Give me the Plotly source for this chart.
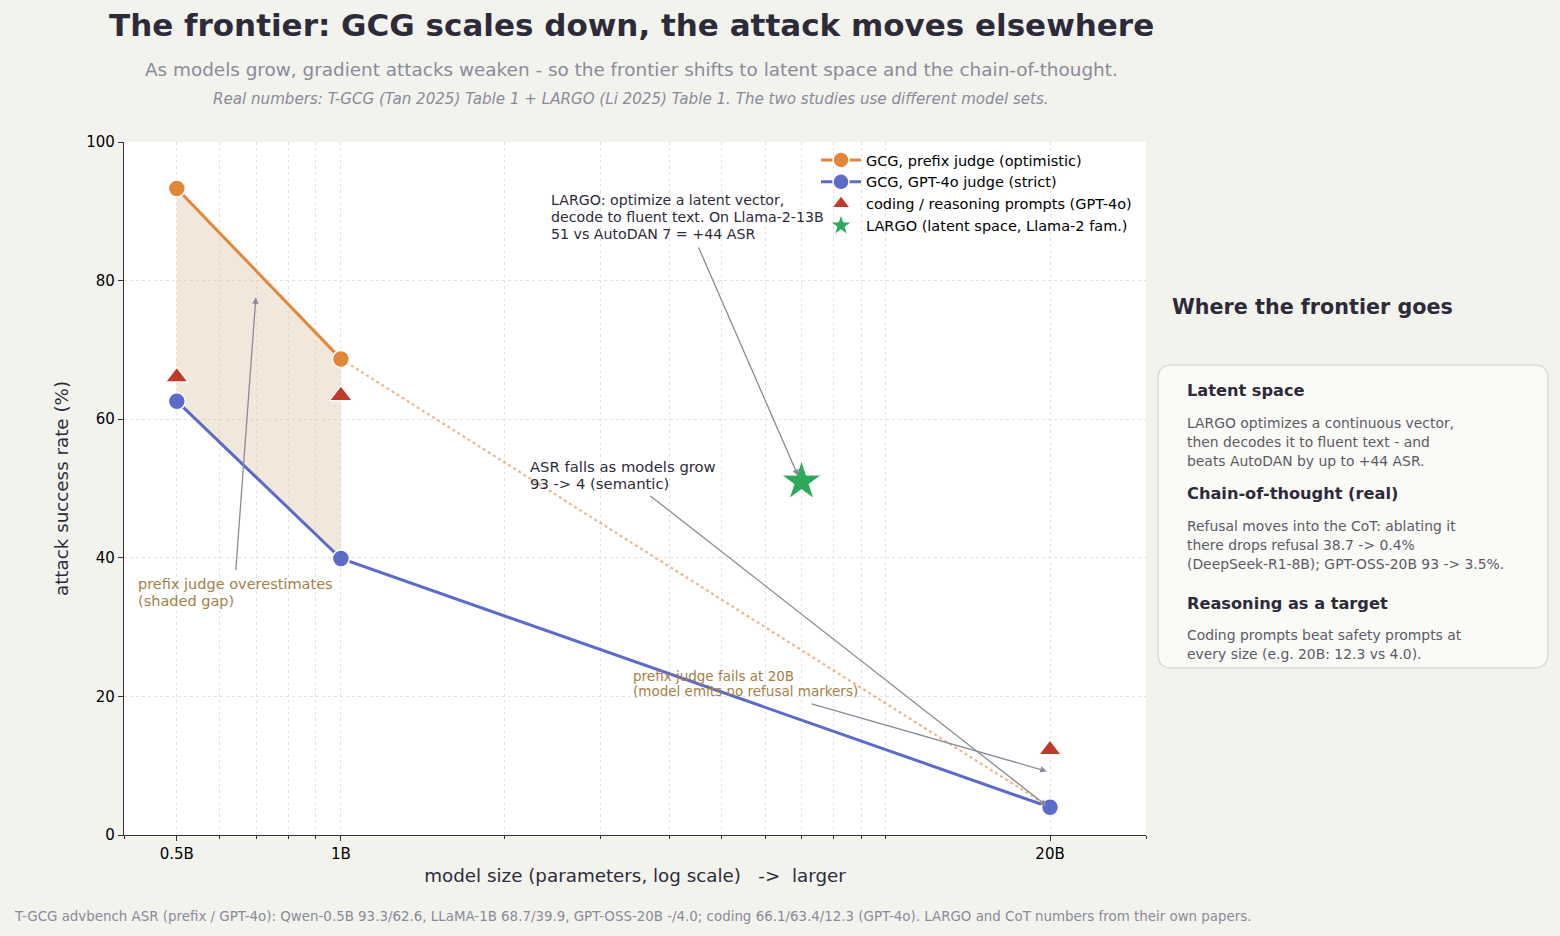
import math
import plotly.graph_objects as go

# ---------------- data ----------------
sizes_gcg = [0.5, 1.0]                 # billions (Qwen-0.5B, LLaMA-1B)
prefix_asr = [93.3, 68.7]
gpt4o_sizes = [0.5, 1.0, 20.0]
gpt4o_asr = [62.6, 39.9, 4.0]
prefix_ext_sizes = [1.0, 20.0]
prefix_ext_asr = [68.7, 4.0]
coding_sizes = [0.5, 1.0, 20.0]
coding_asr = [66.1, 63.4, 12.3]
largo_size = [7.0]
largo_asr = [51.0]
tick_vals = [0.5, 1.0, 20.0]
tick_text = ["0.5B", "1B", "20B"]
minor_vals = [0.4, 0.6, 0.7, 0.8, 0.9, 2, 3, 4, 5, 6, 7, 8, 9, 10, 30]

ORANGE = "#e2873a"
BLUE = "#5b6bc8"
RED = "#c0392b"
GREEN = "#2ea85a"
DARK = "#2d2b3a"
GRAY = "#8a8a99"
BROWN = "#a57f45"
BODY = "#5a5a66"
FONT = "DejaVu Sans"

W, H = 1560, 936
L, R, T, B = 124, 1146, 142, 835


def px(xp):
    return (xp - L) / (R - L)


def py(yp):
    return (B - yp) / (B - T)


fig = go.Figure()

# shaded gap
fig.add_trace(go.Scatter(x=sizes_gcg, y=gpt4o_asr[:2], mode="lines", line=dict(width=0),
                         showlegend=False, hoverinfo="skip"))
fig.add_trace(go.Scatter(x=sizes_gcg, y=prefix_asr, mode="lines", line=dict(width=0),
                         fill="tonexty", fillcolor="rgba(222,196,164,0.40)",
                         showlegend=False, hoverinfo="skip"))
# dotted extension
fig.add_trace(go.Scatter(x=prefix_ext_sizes, y=prefix_ext_asr, mode="lines",
                         line=dict(color="rgba(226,135,58,0.6)", width=2.2, dash="dot"),
                         showlegend=False, hoverinfo="skip"))
fig.add_trace(go.Scatter(x=sizes_gcg, y=prefix_asr, mode="lines+markers",
                         name="GCG, prefix judge (optimistic)",
                         line=dict(color=ORANGE, width=3),
                         marker=dict(size=17, color=ORANGE, line=dict(color="white", width=1.5))))
fig.add_trace(go.Scatter(x=gpt4o_sizes, y=gpt4o_asr, mode="lines+markers",
                         name="GCG, GPT-4o judge (strict)",
                         line=dict(color=BLUE, width=3),
                         marker=dict(size=17, color=BLUE, line=dict(color="white", width=1.5))))
fig.add_trace(go.Scatter(x=coding_sizes, y=coding_asr, mode="markers",
                         name="coding / reasoning prompts (GPT-4o)",
                         marker=dict(symbol="triangle-up", size=20, color=RED,
                                     line=dict(color="white", width=1.5))))
fig.add_trace(go.Scatter(x=largo_size, y=largo_asr, mode="markers",
                         name="LARGO (latent space, Llama-2 fam.)",
                         marker=dict(symbol="star", size=30, color=GREEN,
                                     line=dict(color="white", width=1))))

ann = []


def lg(v):
    return 10 ** v


def arrow(head, tail):
    ann.append(dict(x=math.log10(head[0]), y=head[1], ax=math.log10(tail[0]), ay=tail[1],
                    xref="x", yref="y", axref="x", ayref="y", text="", showarrow=True,
                    arrowhead=2, arrowsize=1, arrowwidth=1.3, arrowcolor=GRAY, standoff=0))


def text_at(text, xp, yp, size, color, anchor="left"):
    ann.append(dict(x=px(xp), y=py(yp), xref="paper", yref="paper", xanchor=anchor,
                    yanchor="middle", showarrow=False, text=text,
                    font=dict(family=FONT, size=size, color=color)))


def lines_at(lines, xp, y0, step, size, color):
    for i, t in enumerate(lines):
        text_at(t, xp, y0 + i * step, size, color)


# in-plot annotations
lines_at(["LARGO: optimize a latent vector,", "decode to fluent text. On Llama-2-13B",
          "51 vs AutoDAN 7 = +44 ASR"], 549, 200, 17, 14.2, DARK)
arrow((lg(0.839), 51.8), (lg(0.655), 85.0))

lines_at(["ASR falls as models grow", "93 -> 4 (semantic)"], 528, 466, 17, 14.8, DARK)
arrow((lg(1.295), 4.2), (lg(0.565), 49.1))

lines_at(["prefix judge fails at 20B", "(model emits no refusal markers)"], 631, 676, 15, 13.5, BROWN)
arrow((lg(1.295), 9.2), (lg(0.861), 19.0))

lines_at(["prefix judge overestimates", "(shaded gap)"], 136, 584, 17, 14.5, BROWN)
arrow((lg(-0.156), 77.6), (lg(-0.193), 38.0))

# titles
text_at("<b>The frontier: GCG scales down, the attack moves elsewhere</b>", 631, 25, 31, DARK, "center")
text_at("As models grow, gradient attacks weaken - so the frontier shifts to latent space and the chain-of-thought.",
        631, 69, 18.4, GRAY, "center")
text_at("<i>Real numbers: T-GCG (Tan 2025) Table 1 + LARGO (Li 2025) Table 1. The two studies use different model sets.</i>",
        631, 99, 15.1, GRAY, "center")
text_at("T-GCG advbench ASR (prefix / GPT-4o): Qwen-0.5B 93.3/62.6, LLaMA-1B 68.7/39.9, GPT-OSS-20B -/4.0; "
        "coding 66.1/63.4/12.3 (GPT-4o). LARGO and CoT numbers from their own papers.",
        12, 916, 13.4, GRAY)

# right panel
text_at("<b>Where the frontier goes</b>", 1170, 307, 20.7, DARK)
panel = [
    ("<b>Latent space</b>", 390, 16.2, DARK),
    ("LARGO optimizes a continuous vector,", 423, 13.9, BODY),
    ("then decodes it to fluent text - and", 442, 13.9, BODY),
    ("beats AutoDAN by up to +44 ASR.", 461, 13.9, BODY),
    ("<b>Chain-of-thought (real)</b>", 493, 16.2, DARK),
    ("Refusal moves into the CoT: ablating it", 526, 13.9, BODY),
    ("there drops refusal 38.7 -> 0.4%", 545, 13.9, BODY),
    ("(DeepSeek-R1-8B); GPT-OSS-20B 93 -> 3.5%.", 564, 13.9, BODY),
    ("<b>Reasoning as a target</b>", 603, 16.2, DARK),
    ("Coding prompts beat safety prompts at", 635, 13.9, BODY),
    ("every size (e.g. 20B: 12.3 vs 4.0).", 654, 13.9, BODY),
]
for t, yy, size, col in panel:
    text_at(t, 1185, yy, size, col)

# rounded box
x0, y0, x1, y1, r = 1158, 365, 1548, 668, 14


def P(xp, yp):
    return f"{px(xp):.5f},{py(yp):.5f}"


path = (f"M {P(x0 + r, y0)} L {P(x1 - r, y0)} Q {P(x1, y0)} {P(x1, y0 + r)} "
        f"L {P(x1, y1 - r)} Q {P(x1, y1)} {P(x1 - r, y1)} L {P(x0 + r, y1)} "
        f"Q {P(x0, y1)} {P(x0, y1 - r)} L {P(x0, y0 + r)} Q {P(x0, y0)} {P(x0 + r, y0)} Z")

fig.update_layout(
    width=W, height=H,
    margin=dict(l=L, r=W - R, t=T, b=H - B, pad=0),
    paper_bgcolor="#f3f3ee", plot_bgcolor="white",
    font=dict(family=FONT, size=13, color="black"),
    annotations=ann,
    shapes=[dict(type="path", xref="paper", yref="paper", path=path,
                 fillcolor="#fafaf7", line=dict(color="#dcdcd6", width=1.5), layer="below")],
    showlegend=True,
    legend=dict(x=px(816), y=py(144), xanchor="left", yanchor="top", bgcolor="rgba(255,255,255,0)",
                font=dict(family=FONT, size=14.5, color="black"), traceorder="normal",
                itemwidth=40, tracegroupgap=0),
    xaxis=dict(type="log", range=[math.log10(0.4), math.log10(30)],
               tickvals=tick_vals, ticktext=tick_text, ticks="outside", ticklen=5, tickcolor="#333",
               showline=True, linecolor="#333", linewidth=1.3, mirror=False,
               showgrid=True, gridcolor="#e3e3e3", griddash="dot", gridwidth=1,
               zeroline=False, tickfont=dict(size=15, color="black"),
               minor=dict(tickvals=minor_vals, ticks="outside", ticklen=3, tickcolor="#333",
                          showgrid=True, gridcolor="#e3e3e3", griddash="dot"),
               title=dict(text="model size (parameters, log scale)   ->  larger",
                          font=dict(size=18.3, color=DARK), standoff=7)),
    yaxis=dict(range=[0, 100], dtick=20, ticks="outside", ticklen=5, tickcolor="#333",
               showline=True, linecolor="#333", linewidth=1.3,
               showgrid=True, gridcolor="#e3e3e3", griddash="dot", zeroline=False,
               tickfont=dict(size=15, color="black"),
               title=dict(text="attack success rate (%)", font=dict(size=18.3, color=DARK), standoff=12)),
)

fig.write_html("out.html")
